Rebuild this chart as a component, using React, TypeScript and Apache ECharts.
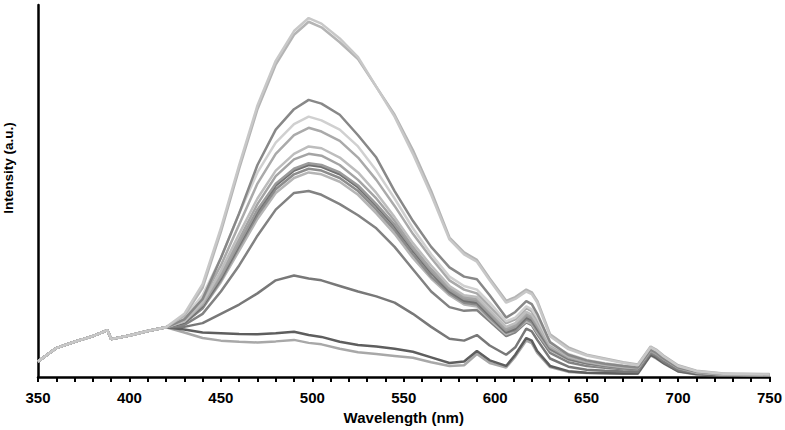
import React, { useEffect, useRef } from "react";
import * as echarts from "echarts";

const wavelengths = [350, 360, 370, 380, 388, 390, 400, 410, 420, 430, 440, 450, 460, 470, 480, 490, 498, 505, 515, 525, 535, 545, 555, 565, 575, 583, 590, 597, 606, 611, 617, 620, 623, 630, 640, 650, 660, 670, 678, 685, 688, 692, 700, 710, 725, 750];

// shared start 350..420
const common = [4.2, 7.8, 9.5, 11.0, 12.6, 10.2, 11.2, 12.4, 13.4];

const curveA1 = [17, 25, 40, 57, 73, 85, 93, 96.5, 95, 91, 86, 78, 70, 60, 49, 37, 33, 31, 26, 20, 21, 23, 22.3, 20, 11, 7.5, 5.8, 4.8, 3.8, 3.2, 8, 7.2, 5.6, 3.0, 1.6, 0.9, 0.7];
const curveA2 = [16.5, 24, 39, 56, 72, 84, 92, 95.5, 94, 90, 85.5, 78, 70.5, 61, 50, 37.5, 33.5, 31.5, 26.5, 20.5, 21.5, 23.5, 22.8, 20.5, 11.5, 8, 6, 5, 4, 3.4, 8.2, 7.4, 5.8, 3.2, 1.7, 1, 0.8];
const curveB = [15.5, 21, 32, 44, 57, 66.5, 72, 74.5, 73.5, 70.5, 65, 59, 50, 42, 35, 29.5, 27, 26.3, 22, 16, 17.5, 20.4, 19.6, 17, 9.4, 6, 4.5, 3.6, 3, 2.6, 7.4, 6.6, 5.0, 2.6, 1.4, 0.8, 0.6];
const curveC = [16, 22, 32, 44, 55, 63, 68, 70, 69, 66.5, 62, 55.5, 48, 40, 33, 27, 24.5, 23.5, 20, 15, 16, 19, 18.2, 16, 9, 6.2, 4.6, 3.7, 3.1, 2.7, 7.6, 6.8, 5.2, 2.7, 1.4, 0.8, 0.6];
const curveD = [15.5, 21, 30, 41, 52, 60, 65, 67, 66, 63.5, 59, 53, 46, 38.5, 32, 26, 23.5, 22.5, 19, 14.5, 15.5, 18.5, 17.7, 15.5, 8.8, 5.8, 4.3, 3.5, 2.9, 2.5, 7.3, 6.5, 5.0, 2.5, 1.3, 0.7, 0.6];
const curveE = [15, 20, 28.5, 38.5, 48, 55.5, 60, 62, 61.5, 59, 55, 49.5, 43, 36, 30, 24.5, 22, 21.5, 18, 13.5, 14.5, 17.5, 16.8, 14.5, 8.5, 5.6, 4.2, 3.4, 2.8, 2.5, 7.5, 6.7, 5.1, 2.6, 1.3, 0.7, 0.6];
const curveF = [15, 19.5, 27.5, 37, 46.5, 54, 58.5, 60, 59.5, 57, 53, 48, 42, 35, 29, 24, 21.5, 21, 17.5, 13, 14, 17, 16.3, 14, 8.3, 5.4, 4.1, 3.3, 2.7, 2.4, 7.2, 6.4, 4.9, 2.5, 1.3, 0.7, 0.6];
const curveG = [15, 19.5, 27, 36, 45, 52, 56, 57.5, 57, 55, 51.5, 46.5, 41, 34.5, 28.5, 23.5, 21, 20.5, 17, 12.5, 13.5, 16.5, 15.8, 13.5, 8, 5.2, 4.0, 3.2, 2.6, 2.3, 7.0, 6.2, 4.8, 2.4, 1.2, 0.7, 0.5];
const curveH = [14.5, 19, 26.5, 35.5, 44.5, 51.5, 55.5, 57, 56.5, 54.5, 51, 46, 40.5, 34, 28, 23, 20.5, 20, 16.5, 12, 13, 16, 15.3, 13, 7.8, 5.0, 3.8, 3.1, 2.5, 2.2, 7.0, 6.2, 4.7, 2.3, 1.2, 0.7, 0.5];
const curveI = [14.5, 18.5, 26, 35, 43.5, 50.5, 54.5, 56, 55.5, 53.5, 50, 45, 39.5, 33, 27, 22.5, 20, 19.5, 16, 12, 12.5, 15.5, 14.8, 12.5, 7.5, 4.8, 3.7, 3.0, 2.4, 2.1, 6.9, 6.1, 4.6, 2.3, 1.2, 0.7, 0.5];
const curveJ = [14.5, 18.5, 25.5, 34, 42.5, 49.5, 53.5, 55, 54.5, 52.5, 49, 44, 38.5, 32, 26.5, 22, 19.5, 19, 15.5, 11.5, 12.5, 15, 14.3, 12, 7.3, 4.7, 3.6, 2.9, 2.4, 2.1, 7.1, 6.3, 4.8, 2.4, 1.2, 0.7, 0.5];
const curveK = [14, 17, 23, 30, 38, 45, 49.5, 50, 49, 46.5, 43.5, 40, 35, 29, 23, 18.8, 17.8, 18, 15, 11, 12, 14.7, 14, 11.5, 6.5, 4, 3, 2.5, 2.1, 1.9, 6.7, 5.9, 4.4, 2.1, 1.1, 0.7, 0.5];
const curveL = [13.5, 14.5, 17, 19.5, 22.5, 26, 27.3, 26.5, 26, 24.5, 23, 21.7, 20, 17, 13.5, 10.3, 9.8, 11.3, 8.5, 6, 8, 13, 12.3, 10, 5, 2.8, 2, 1.7, 1.5, 1.4, 6.4, 5.6, 4.1, 1.8, 1.0, 0.6, 0.5];
const curveM = [12.8, 12, 11.8, 11.6, 11.5, 11.8, 12.2, 11.3, 10.8, 9.5, 8.6, 8.2, 7.6, 6.8, 5.3, 3.8, 4.2, 7, 4.5, 3, 6, 10.5, 9.8, 7, 3, 1.6, 1.2, 1.1, 1.0, 1.0, 6.0, 5.2, 3.8, 1.6, 0.8, 0.5, 0.4];
const curveN = [12, 10.5, 9.8, 9.5, 9.3, 9.6, 10, 9.2, 8.8, 7.6, 6.7, 6.2, 5.7, 5.2, 4.0, 3.0, 3.2, 6.2, 3.8, 2.6, 5.5, 9.8, 9.1, 6.5, 2.7, 1.4, 1.1, 1.0, 0.9, 0.9, 5.8, 5.0, 3.7, 1.5, 0.7, 0.5, 0.4];

const seriesList = [
  { name: "N", values: curveN, color: "#a8a8a8" },
  { name: "M", values: curveM, color: "#5e5e5e" },
  { name: "L", values: curveL, color: "#787878" },
  { name: "K", values: curveK, color: "#828282" },
  { name: "J", values: curveJ, color: "#b5b5b5" },
  { name: "I", values: curveI, color: "#8c8c8c" },
  { name: "H", values: curveH, color: "#707070" },
  { name: "G", values: curveG, color: "#9a9a9a" },
  { name: "F", values: curveF, color: "#a4a4a4" },
  { name: "E", values: curveE, color: "#bdbdbd" },
  { name: "D", values: curveD, color: "#aaaaaa" },
  { name: "C", values: curveC, color: "#d0d0d0" },
  { name: "B", values: curveB, color: "#888888" },
  { name: "A2", values: curveA2, color: "#b4b4b4" },
  { name: "A1", values: curveA1, color: "#c8c8c8" },
];

export default function App() {
  const ref = useRef<HTMLDivElement>(null);
  useEffect(() => {
    if (!ref.current) return;
    const chart = echarts.init(ref.current, null, { renderer: "svg" });
    const font = "'Liberation Sans', Arial, sans-serif";
    chart.setOption({
      animation: false,
      backgroundColor: "#ffffff",
      grid: { left: 38, right: 15, top: 5, bottom: 52, containLabel: false },
      xAxis: {
        type: "value",
        min: 350,
        max: 750,
        interval: 50,
        name: "Wavelength (nm)",
        nameLocation: "middle",
        nameGap: 32,
        nameTextStyle: { fontFamily: font, fontWeight: "bold", fontSize: 15, color: "#000" },
        axisLine: { lineStyle: { color: "#000", width: 2.5 } },
        axisTick: { show: true, inside: false, length: 5, lineStyle: { color: "#000", width: 2 } },
        minorTick: { show: true, splitNumber: 5, length: 5, lineStyle: { color: "#000", width: 2 } },
        axisLabel: { fontFamily: font, fontWeight: "bold", fontSize: 15, color: "#000", margin: 13 },
        splitLine: { show: false },
      },
      yAxis: {
        type: "value",
        min: 0,
        max: 100,
        axisLine: { show: true, onZero: false, lineStyle: { color: "#000", width: 2.5 } },
        axisTick: { show: false },
        axisLabel: { show: false },
        splitLine: { show: false },
      },
      graphic: [
        {
          type: "text",
          x: 8,
          y: 168,
          rotation: Math.PI / 2,
          style: {
            text: "Intensity (a.u.)",
            fontFamily: font,
            fontWeight: "bold",
            fontSize: 13.5,
            fill: "#000",
            textAlign: "center",
            textVerticalAlign: "middle",
          },
        },
      ],
      series: seriesList.map((s) => ({
        type: "line",
        name: s.name,
        showSymbol: false,
        smooth: false,
        lineStyle: { color: s.color, width: 2.5 },
        itemStyle: { color: s.color },
        data: wavelengths.map((w, i) => [w, i < common.length ? common[i] : s.values[i - common.length]]),
      })),
    });
    return () => chart.dispose();
  }, []);
  return <div ref={ref} style={{ width: 785, height: 430, position: "fixed", left: 0, top: 0 }} />;
}
